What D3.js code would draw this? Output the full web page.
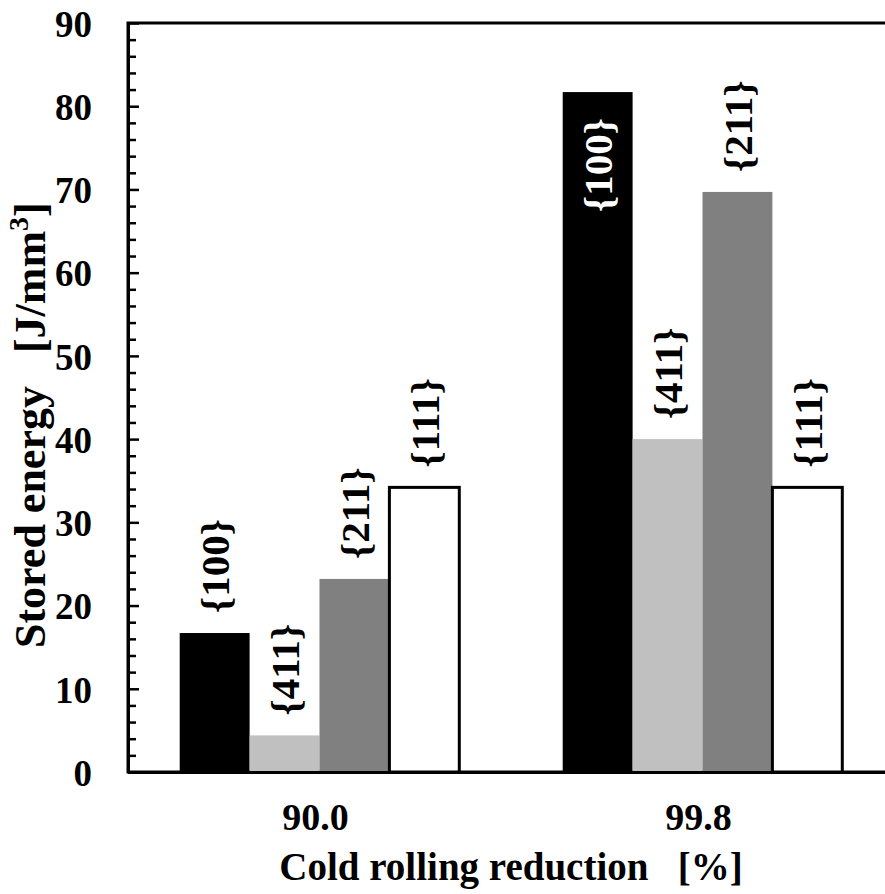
<!DOCTYPE html>
<html>
<head>
<meta charset="utf-8">
<script src="https://cdn.jsdelivr.net/npm/d3@7"></script>
<style>
  body { margin: 0; background: #fff; }
  svg { display: block; overflow: hidden; }
  text { font-family: "Liberation Serif", "Times New Roman", serif; font-weight: bold; fill: #000; }
</style>
</head>
<body>
<svg id="chart" width="885" height="894"></svg>
<script>
// chart data
const reductions = ["90.0", "99.8"];
const planes = ["{100}", "{411}", "{211}", "{111}"];
const energy100 = [16.7, 81.7];
const energy411 = [4.4, 40.0];
const energy211 = [23.2, 69.7];
const energy111 = [34.2, 34.2];
const yTicks = [0, 10, 20, 30, 40, 50, 60, 70, 80, 90];

const series = [energy100, energy411, energy211, energy111];

// rows for drawing: one per bar
let rows = [];
reductions.forEach((r, i) => {
    planes.forEach((p, j) => {
        rows.push({ reduction: r, plane: p, value: series[j][i] });
    });
});

const svg = d3.select("#chart");
const plotLeft = 128, plotRight = 894, plotTop = 23, plotBottom = 772;

let x0 = d3.scaleBand().domain(reductions).range([plotLeft, plotRight])
    .paddingInner(0.27).paddingOuter(0.135);
let x1 = d3.scaleBand().domain(planes).range([0, x0.bandwidth()]);
let y = d3.scaleLinear().domain([0, 90]).range([plotBottom, plotTop]);

let fill = d3.scaleOrdinal().domain(planes).range(["#000000", "#c0c0c0", "#808080", "#ffffff"]);

// frame (top line, right side is off the picture)
svg.append("rect")
    .attr("x", plotLeft).attr("y", plotTop)
    .attr("width", plotRight - plotLeft).attr("height", plotBottom - plotTop)
    .attr("fill", "none").attr("stroke", "#000").attr("stroke-width", 3);

// bars
svg.append("g").selectAll("rect").data(rows).enter().append("rect")
    .attr("x", d => x0(d.reduction) + x1(d.plane))
    .attr("y", d => y(d.value))
    .attr("width", x1.bandwidth())
    .attr("height", d => y(0) - y(d.value))
    .attr("fill", d => fill(d.plane))
    .attr("stroke", d => d.plane === "{111}" ? "#000" : "none")
    .attr("stroke-width", 3);

// bar labels, vertical; put inside the bar when there's no room above
const labelGap = 20;
const labelLen = 96;
const isInside = d => y(d.value) - labelGap - labelLen < plotTop;
svg.append("g").selectAll("text").data(rows).enter().append("text")
    .attr("transform", d => {
        let cx = x0(d.reduction) + x1(d.plane) + x1.bandwidth() / 2;
        let ty = isInside(d) ? y(d.value) + 26 : y(d.value) - labelGap;
        return "translate(" + cx + "," + ty + ") rotate(-90)";
    })
    .attr("text-anchor", d => isInside(d) ? "end" : "start")
    .attr("dy", "0.35em")
    .style("font-size", "41px")
    .style("fill", d => isInside(d) ? "#fff" : "#000")
    .text(d => d.plane);

// y axis with major and minor ticks pointing inward
let minorTicks = d3.range(0, 91, 2).filter(v => v % 10 !== 0);
svg.append("g")
    .attr("transform", "translate(" + plotLeft + ",0)")
    .call(d3.axisLeft(y).tickValues(minorTicks).tickSize(-8).tickSizeOuter(0).tickFormat(""))
    .call(g => g.select(".domain").remove())
    .call(g => g.selectAll("line").attr("stroke-width", 2.5));

svg.append("g")
    .attr("transform", "translate(" + plotLeft + ",0)")
    .call(d3.axisLeft(y).tickValues(yTicks).tickSize(-11).tickSizeOuter(0).tickPadding(36))
    .call(g => g.select(".domain").attr("stroke-width", 3))
    .call(g => g.selectAll("line").attr("stroke-width", 2.5))
    .call(g => g.selectAll("text").attr("fill", "#000").style("font-size", "37px")
        .attr("dy", "0.36em").attr("font-family", null));

// x axis
svg.append("g")
    .attr("transform", "translate(0," + plotBottom + ")")
    .call(d3.axisBottom(x0).tickSize(0).tickSizeOuter(0))
    .call(g => g.select(".domain").attr("stroke-width", 3))
    .call(g => g.selectAll("text").attr("fill", "#000").style("font-size", "38px")
        .attr("y", 58).attr("dy", 0).attr("dx", -4).attr("font-family", null));

// axis titles
svg.append("text")
    .attr("x", (plotLeft + plotRight) / 2)
    .attr("y", 880)
    .attr("text-anchor", "middle")
    .style("font-size", "39px")
    .style("white-space", "pre")
    .text("Cold rolling reduction   [%]");

let yTitle = svg.append("text")
    .attr("transform", "translate(45,648) rotate(-90)")
    .attr("text-anchor", "start")
    .style("font-size", "44px")
    .style("white-space", "pre");
yTitle.append("tspan").text("Stored energy   [J/mm");
yTitle.append("tspan").attr("dy", -17).style("font-size", "28px").text("3");
yTitle.append("tspan").attr("dy", 17).text("]");
</script>
</body>
</html>
